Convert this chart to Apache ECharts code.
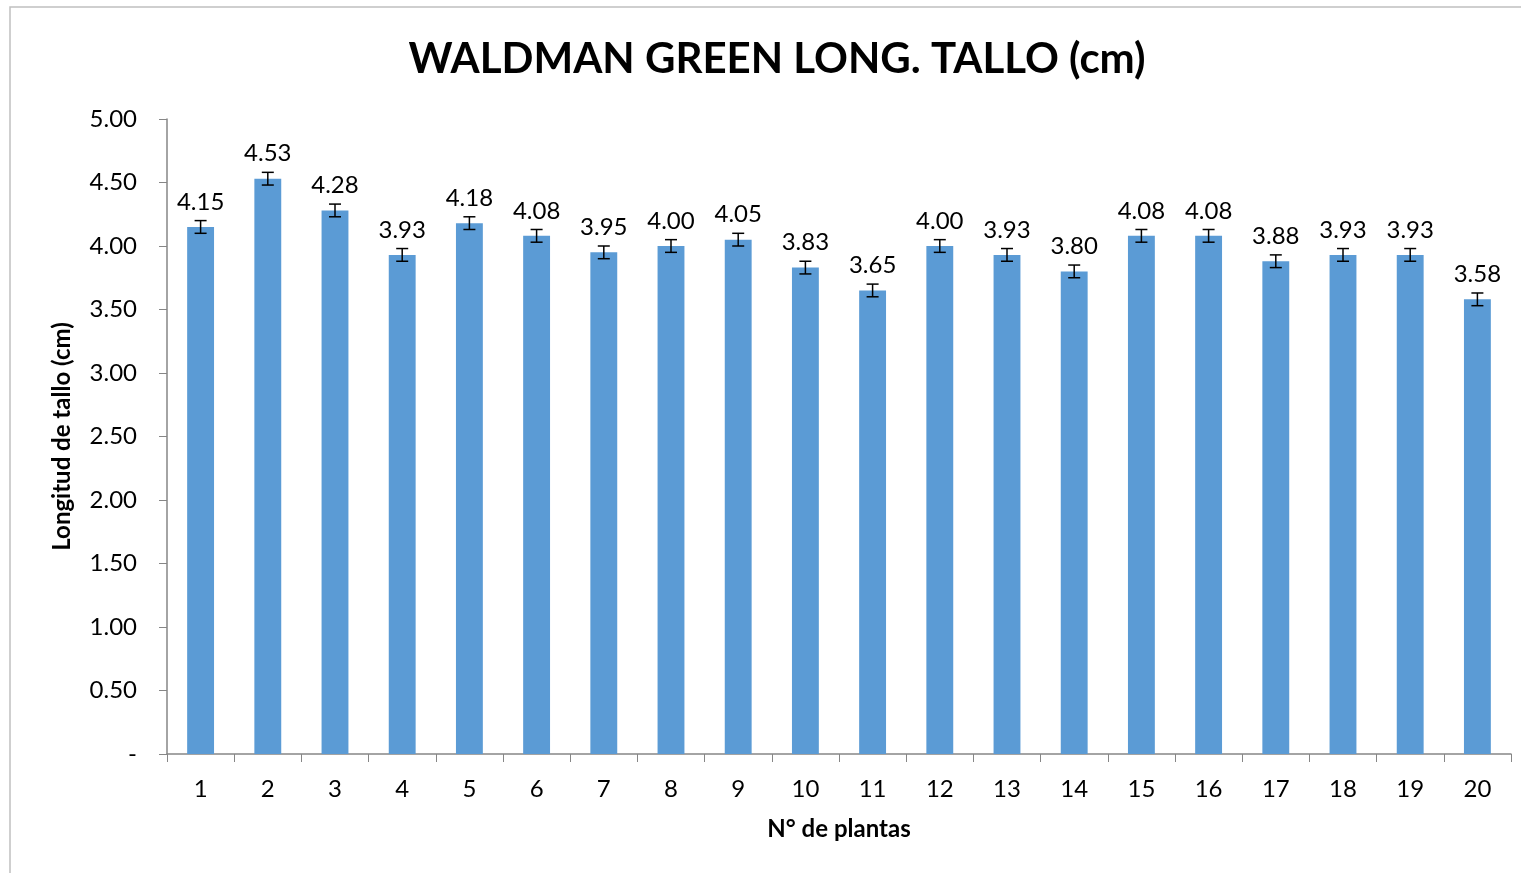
<!DOCTYPE html>
<html>
<head>
<meta charset="utf-8">
<script src="https://cdn.jsdelivr.net/npm/echarts@6/dist/echarts.min.js"></script>
<style>
  html, body { margin: 0; padding: 0; background: #fff; }
  #chart { width: 1521px; height: 873px; }
</style>
</head>
<body>
<div id="chart"></div>
<script>
// datos
const plantas = ['1','2','3','4','5','6','7','8','9','10','11','12','13','14','15','16','17','18','19','20'];
const longitud = [4.15, 4.53, 4.28, 3.93, 4.18, 4.08, 3.95, 4.00, 4.05, 3.83, 3.65, 4.00, 3.93, 3.80, 4.08, 4.08, 3.88, 3.93, 3.93, 3.58];
const errores = [0.05, 0.05, 0.05, 0.05, 0.05, 0.05, 0.05, 0.05, 0.05, 0.05, 0.05, 0.05, 0.05, 0.05, 0.05, 0.05, 0.05, 0.05, 0.05, 0.05];

const FONT = 'Lato';
const chart = echarts.init(document.getElementById('chart'));

// barras de error: [indice, valor, error]
const errData = longitud.map((v, i) => [i, v, errores[i]]);

const option = {
  animation: false,
  textStyle: { fontFamily: FONT },
  title: {
    text: 'WALDMAN GREEN LONG. TALLO (cm)',
    left: 772,
    textAlign: 'center',
    top: 33,
    textStyle: { fontFamily: FONT, fontSize: 42, fontWeight: 'bold', color: '#000' }
  },
  graphic: [{
    type: 'rect',
    shape: { x: 10, y: 7, width: 1600, height: 1000 },
    style: { fill: 'none', stroke: '#c0c0c0', lineWidth: 1.5 },
    silent: true
  }],
  grid: { left: 167, right: 10, top: 119, bottom: 119 },
  xAxis: {
    type: 'category',
    data: plantas,
    name: 'N° de plantas',
    nameLocation: 'middle',
    nameGap: 63,
    nameTextStyle: { fontFamily: FONT, fontSize: 24, fontWeight: 'bold', color: '#000' },
    axisLine: { lineStyle: { color: '#868686', width: 1.5 } },
    axisTick: { show: true, length: 8, lineStyle: { color: '#868686' } },
    axisLabel: { fontFamily: FONT, fontSize: 24, color: '#000', margin: 23 }
  },
  yAxis: {
    type: 'value',
    min: 0,
    max: 5,
    interval: 0.5,
    name: 'Longitud de tallo (cm)',
    nameLocation: 'middle',
    nameGap: 93,
    nameTextStyle: { fontFamily: FONT, fontSize: 24, fontWeight: 'bold', color: '#000' },
    axisLine: { show: true, lineStyle: { color: '#868686', width: 1.5 } },
    axisTick: { show: true, length: 8, lineStyle: { color: '#868686' } },
    splitLine: { show: false },
    axisLabel: {
      fontFamily: FONT, fontSize: 24, color: '#000', margin: 30,
      formatter: v => v === 0 ? '-' : v.toFixed(2)
    }
  },
  series: [
    {
      type: 'bar',
      data: longitud,
      barWidth: '40%',
      itemStyle: { color: '#5B9BD5' },
      label: {
        show: true,
        position: 'top',
        distance: 13,
        fontFamily: FONT,
        fontSize: 24,
        color: '#000',
        formatter: p => p.value.toFixed(2)
      },
      z: 2
    },
    {
      type: 'custom',
      data: errData,
      z: 5,
      renderItem: function (params, api) {
        const i = api.value(0);
        const v = api.value(1);
        const e = api.value(2);
        const hi = api.coord([i, v + e]);
        const lo = api.coord([i, v - e]);
        const w = 6;
        const st = { stroke: '#000', lineWidth: 1.5 };
        return {
          type: 'group',
          children: [
            { type: 'line', shape: { x1: hi[0], y1: hi[1], x2: lo[0], y2: lo[1] }, style: st },
            { type: 'line', shape: { x1: hi[0] - w, y1: hi[1], x2: hi[0] + w, y2: hi[1] }, style: st },
            { type: 'line', shape: { x1: lo[0] - w, y1: lo[1], x2: lo[0] + w, y2: lo[1] }, style: st }
          ]
        };
      }
    }
  ]
};

chart.setOption(option);
</script>
</body>
</html>
